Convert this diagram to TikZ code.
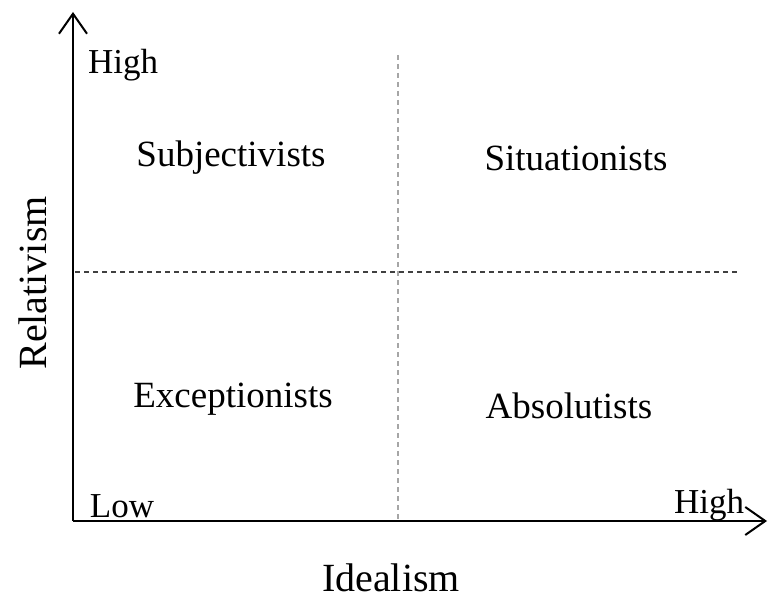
\documentclass[tikz,border=0pt]{standalone}
\usepackage{fontspec}
\setmainfont{Liberation Serif}
\usetikzlibrary{arrows.meta}
\begin{document}
\begin{tikzpicture}[x=1pt,y=-1pt,
  lbl/.style={font=\fontsize{37}{42}\selectfont, inner sep=0pt},
  endlbl/.style={font=\fontsize{35}{40}\selectfont, inner sep=0pt},
  axlbl/.style={font=\fontsize{40}{46}\selectfont, inner sep=0pt},
  axis/.style={line width=2pt, -{Straight Barb[length=20pt,width=28pt,line width=2pt]}},
  divider/.style={line width=1.2pt, dash pattern=on 5pt off 4pt}]
\useasboundingbox (0,0) rectangle (768,599);
\coordinate (O) at (73,521);
\coordinate (Ytop) at (73,12);
\coordinate (Xend) at (767,521);
\coordinate (Vtop) at (398,55);
\coordinate (Vbot) at (398,521);
\coordinate (Hl) at (75,272);
\coordinate (Hr) at (740,272);
\draw[divider, gray!70] (Vtop) -- (Vbot);
\draw[divider, black!75] (Hl) -- (Hr);
\draw[axis] (O) -- (Ytop);
\draw[axis] (O) -- (Xend);
\node[endlbl] (yhigh) at (123,65) {High};
\node[lbl] (subj) at (231,158) {Subjectivists};
\node[lbl] (situ) at (576,158) {Situationists};
\node[lbl] (exc) at (233,399) {Exceptionists};
\node[lbl] (abs) at (569,406) {Absolutists};
\node[endlbl] (low) at (122,506) {Low};
\node[endlbl] (xhigh) at (709,505) {High};
\node[axlbl] (xlab) at (391,578) {Idealism};
\node[axlbl, rotate=90] (ylab) at (33,283) {Relativism};
\end{tikzpicture}
\end{document}
